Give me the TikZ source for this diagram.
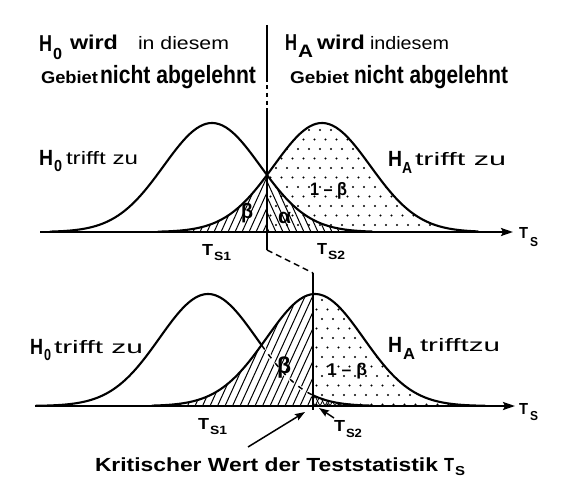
\documentclass[tikz,border=0pt]{standalone}
\usepackage{fontspec}
\setmainfont{Liberation Sans}
\usetikzlibrary{arrows.meta}
\newcommand{\tx}[3]{\resizebox{#1pt}{\height}{\fontsize{#2}{#2}\selectfont\bfseries #3}}
\newcommand{\tm}[3]{\resizebox{#1pt}{\height}{\fontsize{#2}{#2}\selectfont #3}}
\begin{document}
\begin{tikzpicture}[x=1pt,y=-1pt,
  lbl/.style={anchor=base west, inner sep=0pt, outer sep=0pt},
  curve/.style={line width=2.1pt, line join=round, line cap=round},
  hatchline/.style={line width=1pt},
  axisline/.style={line width=2pt, -{Stealth[length=12pt,width=8pt,inset=2pt]}},
  critline/.style={line width=1.6pt},
  pointer/.style={line width=1.5pt, -{Stealth[length=10pt,width=7pt,inset=1.5pt]}},
  declare function={gt(\u,\m)=232-109*exp(-0.5*((\u-\m)/48.3)^2);
                    gl(\u,\m)=406-112*exp(-0.5*((\u-\m)/48.5)^2);}]
\useasboundingbox[fill=white] (0,0) rectangle (561,484);

% ---------------- top panel: fills ----------------
\begin{scope}
  \clip (158,232) -- plot[domain=158:267, samples=40] (\x,{gt(\x,322)}) -- (267,232) -- cycle;
  \foreach \k in {0,...,32} \draw[hatchline] ({95+7*\k},232) -- ++(55,-121);
\end{scope}
\begin{scope}
  \clip (267,232) -- plot[domain=267:478, samples=60] (\x,{gt(\x,322)}) -- (478,232) -- cycle;
  \foreach \r in {0,...,11} \foreach \c in {0,...,20}
    \fill ({265+11*\c+5.5*mod(\r,2)},{130+9.5*\r}) circle (1.15);
\end{scope}
\begin{scope}
  \clip (267,232) -- plot[domain=267:372, samples=40] (\x,{gt(\x,212)}) -- (372,232) -- cycle;
  \foreach \k in {0,...,26} \draw[hatchline] ({262+7*\k},232) -- ++(-55,-121);
\end{scope}

% ---------------- top panel: curves ----------------
\draw[curve] plot[domain=50:372, samples=100, smooth] (\x,{gt(\x,212)});
\draw[curve] plot[domain=158:478, samples=100, smooth] (\x,{gt(\x,322)});
\coordinate (axTL) at (40,232);
\coordinate (axTR) at (513,232);
\draw[axisline] (axTL) -- (axTR);

% ---------------- lower panel: fills ----------------
\begin{scope}
  \clip (152,406) -- plot[domain=152:313, samples=50] (\x,{gl(\x,315)}) -- (313,406) -- cycle;
  \foreach \k in {0,...,36} \draw[hatchline] ({90+7.5*\k},406) -- ++(58,-127);
\end{scope}
\begin{scope}
  \clip (313,406) -- plot[domain=313:485, samples=60] (\x,{gl(\x,315)}) -- (485,406) -- cycle;
  \foreach \r in {0,...,12} \foreach \c in {0,...,16}
    \fill ({311+11*\c+5.5*mod(\r,2)},{300+9.5*\r}) circle (1.15);
\end{scope}
\begin{scope}
  \clip (313,406) -- plot[domain=313:372, samples=30] (\x,{gl(\x,208)}) -- (372,406) -- cycle;
  \foreach \k in {0,...,20} \draw[line width=0.8pt] ({300+5*\k},406) -- ++(-12,-24);
  \foreach \k in {0,...,20} \draw[line width=0.8pt] ({290+5*\k},406) -- ++(12,-24);
\end{scope}

% ---------------- lower panel: curves ----------------
\draw[curve] plot[domain=36:261.5, samples=90, smooth] (\x,{gl(\x,208)});
\draw[white, line width=3.6pt, dash pattern=on 6pt off 5pt] plot[domain=261.5:313, samples=30, smooth] (\x,{gl(\x,208)});
\draw[line width=1.5pt, dash pattern=on 5pt off 6pt, dash phase=-0.5pt] plot[domain=261.5:313, samples=30, smooth] (\x,{gl(\x,208)});
\draw[curve] plot[domain=313:372, samples=30, smooth] (\x,{gl(\x,208)});
\draw[curve] plot[domain=152:485, samples=100, smooth] (\x,{gl(\x,315)});
\coordinate (axLL) at (35,406);
\coordinate (axLR) at (515,406);
\draw[axisline] (axLL) -- (axLR);

% ---------------- critical lines ----------------
\coordinate (vt0) at (267,25);
\coordinate (vt1) at (267,78);
\coordinate (vt2) at (267,108);
\coordinate (vt3) at (267,250);
\coordinate (vl0) at (313,273);
\coordinate (vl1) at (313,410);
\draw[critline] (vt0) -- (vt1);
\draw[critline, dash pattern=on 4pt off 3.5pt] (vt1) -- (vt2);
\draw[critline] (vt2) -- (vt3);
\draw[line width=1.4pt, dash pattern=on 6pt off 4pt] (vt3) -- (vl0);
\draw[critline] (vl0) -- (vl1);

% ---------------- header texts ----------------
\node[lbl] (hl1) at (39,52) {\tx{13}{23}{H}};
\node[lbl] (hl2) at (53,60) {\tx{9}{16}{0}};
\node[lbl] (hl3) at (70,50) {\tx{48}{20}{wird}};
\node[lbl] (hl4) at (138,50) {\tm{91}{18}{in diesem}};
\node[lbl] (hl5) at (41,84) {\tx{57}{17}{Gebiet}};
\node[lbl] (hl6) at (100,84) {\tx{156}{25}{nicht abgelehnt}};
\node[lbl] (hr1) at (285,51) {\tx{12}{23}{H}};
\node[lbl] (hr2) at (298,58) {\tx{15}{18}{A}};
\node[lbl] (hr3) at (317,50) {\tx{48}{20}{wird}};
\node[lbl] (hr4) at (370,50) {\tm{79}{18}{indiesem}};
\node[lbl] (hr5) at (290,84) {\tx{59}{17}{Gebiet}};
\node[lbl] (hr6) at (354,84) {\tx{154}{25}{nicht abgelehnt}};

% ---------------- top panel texts ----------------
\node[lbl] (t1) at (39,165) {\tx{14}{22}{H}};
\node[lbl] (t2) at (54,171) {\tx{8}{16}{0}};
\node[lbl] (t3) at (66,164) {\tm{72}{18}{trifft zu}};
\node[lbl] (t4) at (388,166) {\tx{14}{22}{H}};
\node[lbl] (t5) at (402,173) {\tx{10}{16}{A}};
\node[lbl] (t6) at (415,165) {\tm{91}{18}{trifft zu}};
\node[lbl] (t7) at (310,195) {\tx{37}{18}{1 – β}};
\node[lbl] (t8) at (241,218) {\tx{12}{21}{β}};
\node[lbl] (t9) at (278,223) {\tx{13}{21}{α}};
\node[lbl] (t10) at (202,255) {\tx{11}{16}{T}};
\node[lbl] (t11) at (214,260) {\tx{17}{12}{S1}};
\node[lbl] (t12) at (317,254) {\tx{10}{16}{T}};
\node[lbl] (t13) at (328,259) {\tx{17}{12}{S2}};
\node[lbl] (t14) at (519,238) {\tx{9}{16}{T}};
\node[lbl] (t15) at (530,246) {\tx{8}{13}{S}};

% ---------------- lower panel texts ----------------
\node[lbl] (b1) at (30,354) {\tx{13}{22}{H}};
\node[lbl] (b2) at (44,360) {\tx{7}{16}{0}};
\node[lbl] (b3) at (54,353) {\tm{89}{18}{trifft zu}};
\node[lbl] (b4) at (388,352) {\tx{14}{22}{H}};
\node[lbl] (b5) at (403,359) {\tx{12}{16}{A}};
\node[lbl] (b6) at (420,351) {\tm{80}{18}{trifftzu}};
\node[lbl] (b7) at (277,373) {\tx{14}{23}{β}};
\node[lbl] (b8) at (327,375) {\tx{40}{17}{1 – β}};
\node[lbl] (b9) at (198,429) {\tx{11}{16}{T}};
\node[lbl] (b10) at (210,434) {\tx{17}{12}{S1}};
\node[lbl] (b11) at (334,431) {\tx{11}{16}{T}};
\node[lbl] (b12) at (346,437) {\tx{16}{12}{S2}};
\node[lbl] (b13) at (519,414) {\tx{9}{16}{T}};
\node[lbl] (b14) at (530,420) {\tx{8}{13}{S}};
\node[lbl] (k1) at (95,471) {\tx{343}{19}{Kritischer Wert der Teststatistik}};
\node[lbl] (k2) at (444,471) {\tx{10}{19}{T}};
\node[lbl] (k3) at (455,475) {\tx{10}{13}{S}};

% ---------------- pointers ----------------
\coordinate (p0) at (248,447);
\coordinate (p1) at (305,412);
\coordinate (q0) at (334,418);
\coordinate (q1) at (319,408);
\draw[pointer] (p0) -- (p1);
\draw[pointer] (q0) -- (q1);
\end{tikzpicture}
\end{document}
